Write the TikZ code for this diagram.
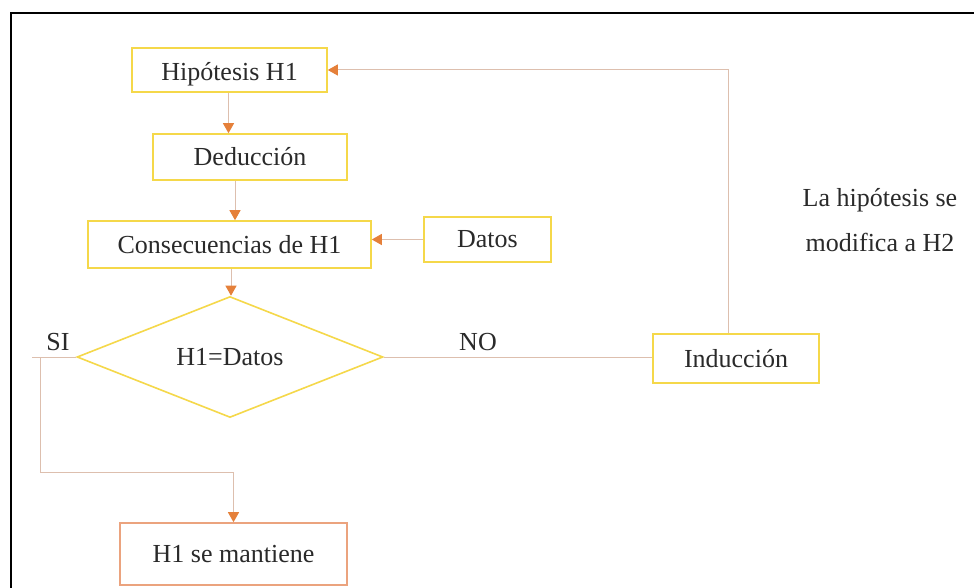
\documentclass[tikz,border=0pt]{standalone}
\usepackage{fontspec}
\setmainfont{Liberation Serif}
\usetikzlibrary{arrows.meta,shapes.geometric}
\definecolor{boxY}{HTML}{F5D84A}
\definecolor{boxO}{HTML}{EBA37E}
\definecolor{lineC}{HTML}{DDBFAE}
\definecolor{arrC}{HTML}{E5803A}
\definecolor{txtC}{HTML}{2A2A2A}
\tikzset{
  every node/.style={text=txtC,font=\rmfamily\fontsize{26}{30}\selectfont},
  ybox/.style={draw=boxY,line width=1.6pt,rectangle,inner sep=0pt},
  obox/.style={draw=boxO,line width=1.6pt,rectangle,inner sep=0pt},
  conn/.style={draw=lineC,line width=1pt},
  arr/.style={conn,-{Triangle[width=11pt,length=10pt,color=arrC]}},
  lbl/.style={inner sep=0pt}
}
\begin{document}
\begin{tikzpicture}[x=1pt,y=-1pt]
\useasboundingbox (0,0) rectangle (974,588);
\fill[white] (0,0) rectangle (974,588);
\draw[line width=2pt,black] (10.5,600) -- (10.5,13) -- (990,13);

\node[ybox,minimum width=195pt,minimum height=44pt,text height=25pt,text depth=4pt] (hip) at (229.5,70) {Hipótesis H1};
\node[ybox,minimum width=194pt,minimum height=46pt] (ded) at (250,157) {Deducción};
\node[ybox,minimum width=283pt,minimum height=47pt] (con) at (229.5,244.5) {Consecuencias de H1};
\node[ybox,minimum width=127pt,minimum height=45pt] (dat) at (487.5,239.5) {Datos};
\node[diamond,draw=boxY,line width=1.6pt,inner sep=0pt,aspect=2.5,minimum width=306pt,minimum height=121pt] (dia) at (230,357) {H1=Datos};
\node[ybox,minimum width=166pt,minimum height=49pt] (ind) at (736,358.5) {Inducción};
\node[obox,minimum width=227pt,minimum height=62pt] (man) at (233.5,554) {H1 se mantiene};

\node[lbl] (si) at (58,342) {SI};
\node[lbl] (no) at (478,342) {NO};
\node[lbl,align=center] (note) at (880,220) {La hipótesis se\\[15pt]modifica a H2};

\coordinate (siC) at (40,472);

\draw[arr] ([xshift=-1pt]hip.south) -- ([xshift=-1pt]hip.south |- ded.north);
\draw[arr] ([xshift=-15pt]ded.south) -- ([xshift=-15pt]ded.south |- con.north);
\draw[arr] ([xshift=1.5pt]con.south) -- ([xshift=1.5pt]con.south |- dia.north);
\draw[arr] (dat.west) -- (dat.west -| con.east);
\draw[conn] (dia.west) -- ++(-44,0);
\draw[conn] (dia.west -| siC) -- (siC) -- (siC -| man.north);
\draw[arr] (siC -| man.north) -- (man.north);
\draw[conn] (dia.east) -- (dia.east -| ind.west);
\draw[arr] ([xshift=-8pt]ind.north) |- (hip.east);
\end{tikzpicture}
\end{document}
